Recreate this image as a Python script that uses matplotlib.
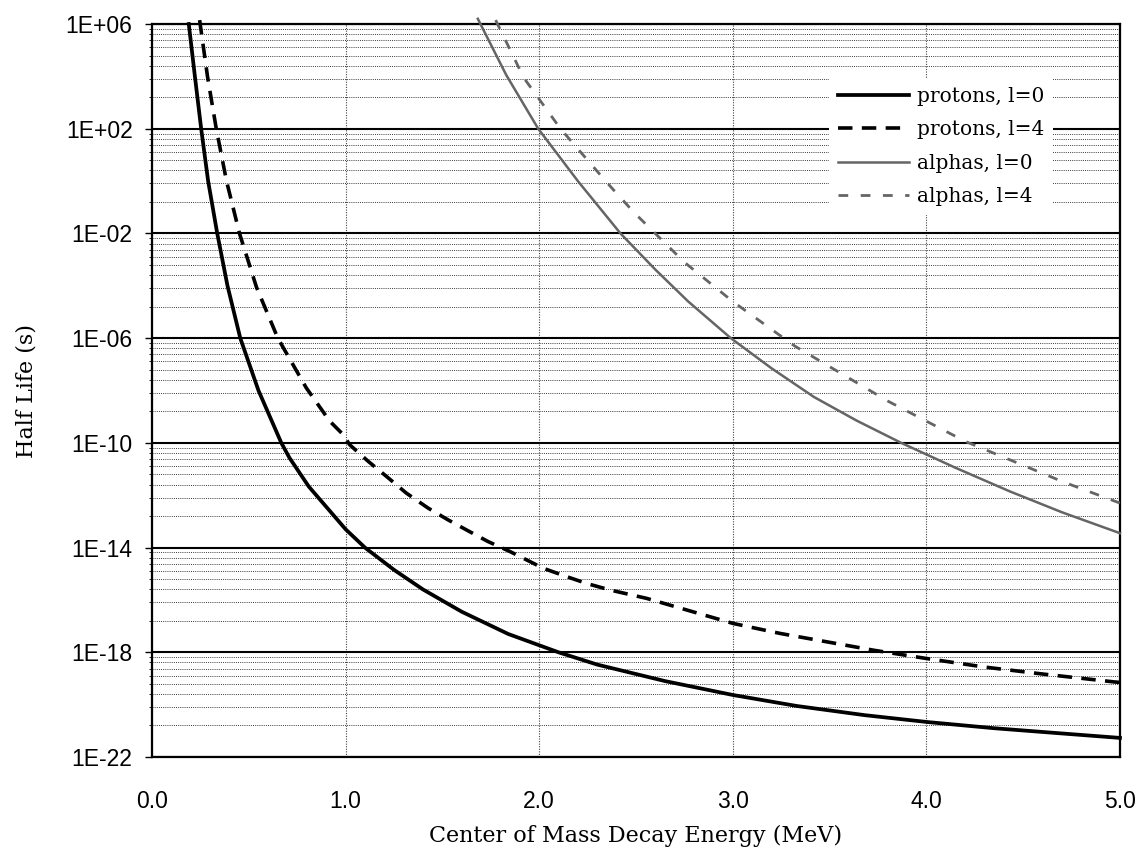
import numpy as np
import matplotlib
matplotlib.use('Agg')
import matplotlib.pyplot as plt
from matplotlib.ticker import FixedLocator, NullFormatter

# values: energy (MeV) and log10 of half life (s)
p0_e = [0.19, 0.22, 0.254, 0.29, 0.337, 0.39, 0.456, 0.55, 0.668, 0.71, 0.81, 1.0, 1.1,
        1.25, 1.4, 1.6, 1.84, 2.1, 2.3, 2.65, 3.0, 3.33, 3.68, 4.0, 4.35, 4.7, 5.0]
p0_logt = [6.0, 4.1, 2.0, 0.0, -2.0, -4.0, -6.0, -8.0, -10.0, -10.57, -11.67, -13.3, -14.0,
           -14.85, -15.6, -16.45, -17.3, -18.0, -18.47, -19.1, -19.63, -20.05, -20.4,
           -20.66, -20.9, -21.1, -21.27]

p4_e = [0.246, 0.287, 0.332, 0.385, 0.452, 0.54, 0.65, 0.797, 0.918, 0.987, 1.021, 1.116,
        1.211, 1.314, 1.426, 1.529, 1.633, 1.736, 1.849, 2.021, 2.142, 2.245, 2.366, 2.555,
        3.003, 3.245, 3.486, 3.727, 3.977, 4.296, 4.589, 4.968, 5.0]
p4_logt = [6.15, 3.98, 2.0, 0.0, -2.0, -4.06, -6.0, -7.9, -9.17, -9.68, -10.07, -10.7,
           -11.28, -11.92, -12.49, -12.94, -13.36, -13.77, -14.15, -14.79, -15.11, -15.37,
           -15.62, -15.94, -16.9, -17.28, -17.6, -17.92, -18.21, -18.56, -18.82, -19.13,
           -19.15]

a0_e = [1.683, 1.83, 1.995, 2.2, 2.42, 2.6, 2.77, 2.99, 3.2, 3.42, 3.64, 3.87, 4.15, 4.43,
        4.7, 5.0]
a0_logt = [6.2, 4.05, 2.0, 0.0, -2.0, -3.38, -4.6, -6.0, -7.15, -8.25, -9.15, -10.0, -10.95,
           -11.85, -12.65, -13.45]

a4_e = [1.775, 1.92, 2.11, 2.355, 2.49, 2.75, 3.0, 3.32, 3.8, 4.2, 4.71, 5.0]
a4_logt = [6.15, 3.95, 2.0, -0.1, -1.2, -3.1, -4.6, -6.3, -8.4, -9.94, -11.5, -12.3]

labels = ['protons, l=0', 'protons, l=4', 'alphas, l=0', 'alphas, l=4']
ytick_exp = [6, 2, -2, -6, -10, -14, -18, -22]
xticks = [0.0, 1.0, 2.0, 3.0, 4.0, 5.0]

fig = plt.figure(figsize=(11.42, 8.58), dpi=100)
ax = fig.add_axes([0.1331, 0.1177, 0.8476, 0.8543])

ax.plot(p0_e, 10.0 ** np.array(p0_logt), color='black', lw=2.7, label=labels[0],
        clip_on=False, zorder=5)
ax.plot(p4_e, 10.0 ** np.array(p4_logt), color='black', lw=2.6, dashes=(4, 2.6),
        label=labels[1], clip_on=False, zorder=5)
ax.plot(a0_e, 10.0 ** np.array(a0_logt), color='#656565', lw=1.8, label=labels[2],
        clip_on=False, zorder=5)
ax.plot(a4_e, 10.0 ** np.array(a4_logt), color='#656565', lw=2.0, dashes=(3.5, 4.5),
        label=labels[3], clip_on=False, zorder=5)

ax.set_yscale('log')
ax.set_ylim(1e-22, 1e6)
ax.set_xlim(0, 5)

# y axis behaves like a log axis with base 1E+04: minor lines at k * base
major = [10.0 ** e for e in ytick_exp]
minor = [10.0 ** e * k ** 4 for e in ytick_exp[1:] for k in range(2, 10)]
ax.yaxis.set_major_locator(FixedLocator(major))
ax.yaxis.set_minor_locator(FixedLocator(minor))
ax.yaxis.set_minor_formatter(NullFormatter())
ax.set_yticklabels(['1E%+03d' % e for e in ytick_exp])
ax.set_xticks(xticks)
ax.set_xticklabels(['%.1f' % v for v in xticks])

ax.grid(True, which='major', axis='y', color='black', lw=1.5, ls='-')
ax.grid(True, which='minor', axis='y', color='#3a3a3a', lw=0.7, ls=(0, (1, 1.2)))
ax.grid(True, which='major', axis='x', color='#444444', lw=0.8, ls=(0, (1, 1.3)))
ax.set_axisbelow(True)

for s in ax.spines.values():
    s.set_linewidth(1.6)

ax.tick_params(axis='y', which='major', length=5, width=1, pad=9,
               labelsize=16.5, direction='out')
ax.tick_params(axis='y', which='minor', length=2, width=0.6, direction='out')
ax.tick_params(axis='x', which='major', length=0, pad=24, labelsize=16.5)
for t in ax.get_xticklabels() + ax.get_yticklabels():
    t.set_family('Liberation Sans')

ax.set_xlabel('Center of Mass Decay Energy (MeV)', family='DejaVu Serif', fontsize=16,
              labelpad=8)
ax.set_ylabel('Half Life (s)', family='DejaVu Serif', fontsize=16, labelpad=20)

leg = ax.legend(loc='upper right', bbox_to_anchor=(0.931, 0.927), borderaxespad=0,
                prop={'family': 'DejaVu Serif', 'size': 14.5}, frameon=True,
                fancybox=False, handlelength=3.5, handletextpad=0.4,
                labelspacing=0.72, borderpad=0.45)
leg.get_frame().set_facecolor('white')
leg.get_frame().set_edgecolor('none')
leg.get_frame().set_alpha(1)
leg.set_zorder(10)

fig.savefig('out.png', dpi=100)
